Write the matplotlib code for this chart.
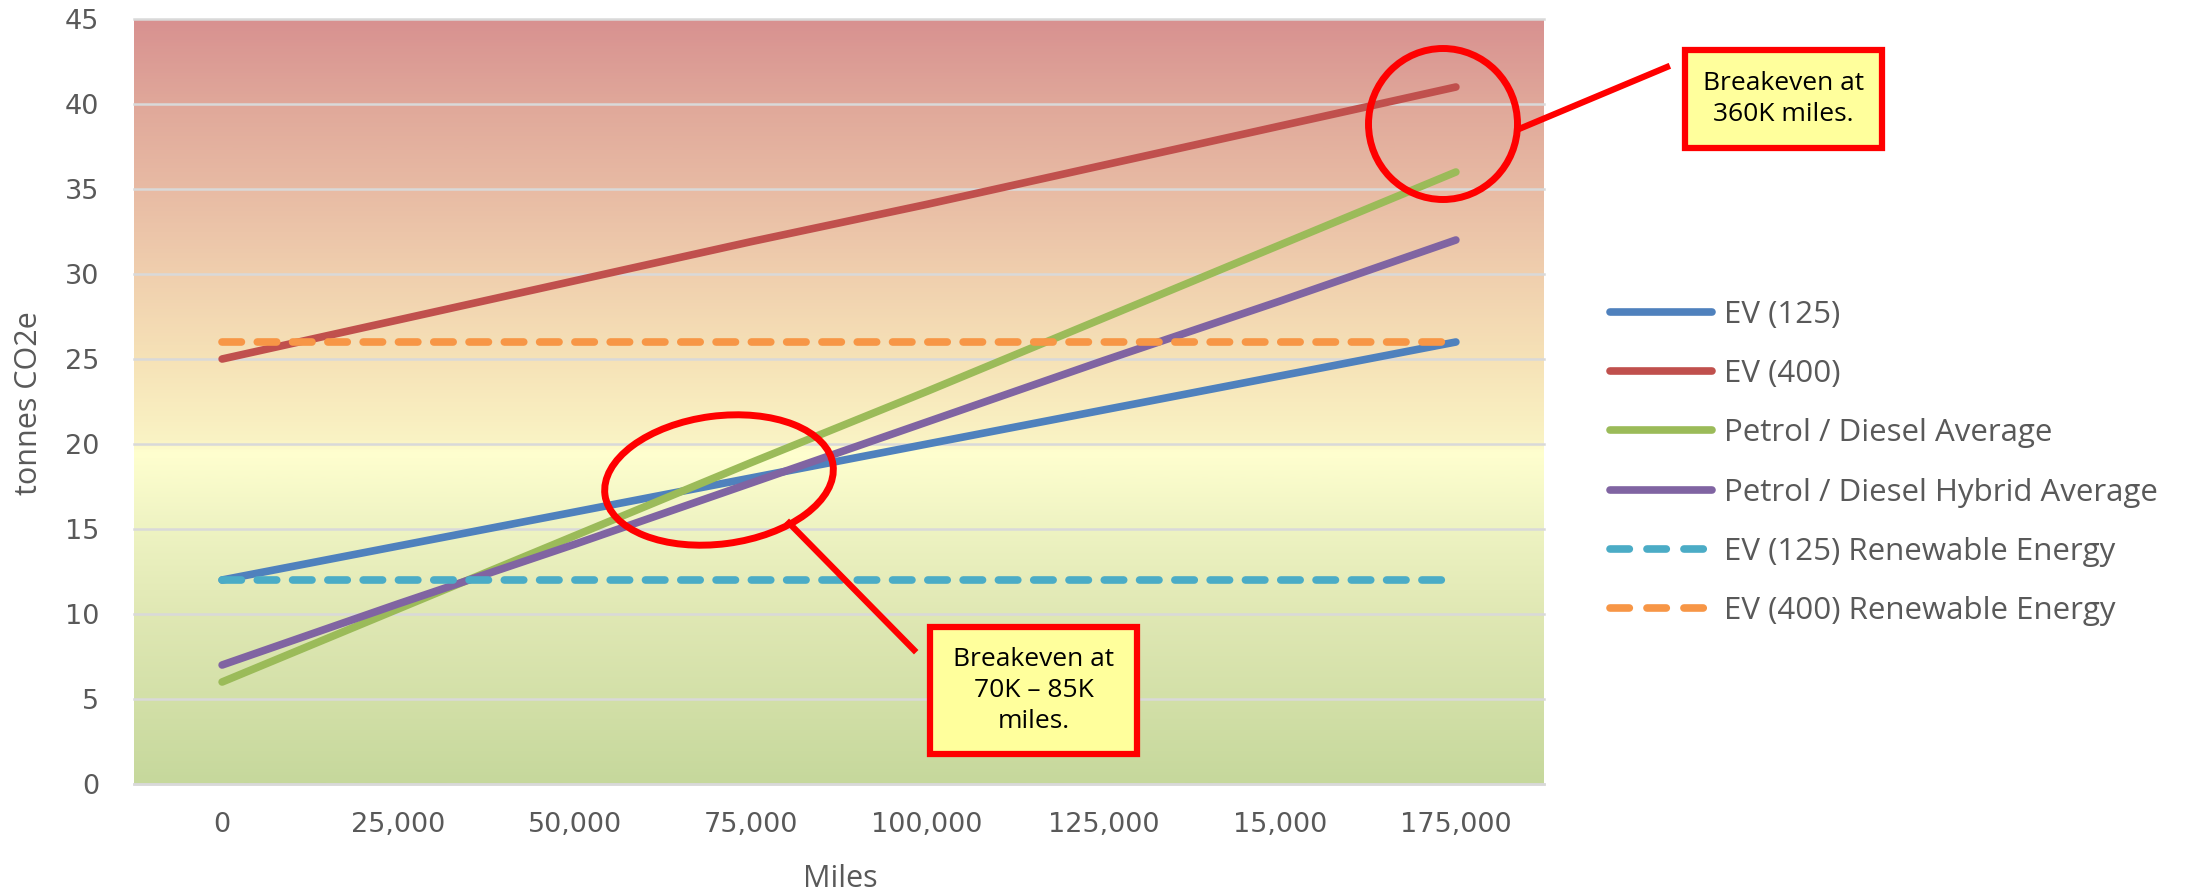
import numpy as np
import matplotlib
matplotlib.use("Agg")
import matplotlib.pyplot as plt
from matplotlib.colors import LinearSegmentedColormap
from matplotlib.patches import Ellipse, Rectangle
from matplotlib.lines import Line2D
from matplotlib.transforms import IdentityTransform

# ---------------- data ----------------
miles_labels = ["0", "25,000", "50,000", "75,000", "100,000", "125,000", "15,000", "175,000"]
ev125 = [12, 14, 16, 18, 20, 22, 24, 26]
ev400 = [25, 27.3, 29.6, 31.9, 34.1, 36.4, 38.7, 41]
petrol = [6, 10.3, 14.6, 18.9, 23.1, 27.4, 31.7, 36]
hybrid = [7, 10.6, 14.1, 17.7, 21.3, 24.9, 28.4, 32]
ev125_re = [12, 12, 12, 12, 12, 12, 12, 12]
ev400_re = [26, 26, 26, 26, 26, 26, 26, 26]
series_names = ["EV (125)", "EV (400)", "Petrol / Diesel Average",
                "Petrol / Diesel Hybrid Average", "EV (125) Renewable Energy",
                "EV (400) Renewable Energy"]
y_ticks = [0, 5, 10, 15, 20, 25, 30, 35, 40, 45]

W, H = 2193, 892
fig = plt.figure(figsize=(W / 100, H / 100), dpi=100)
ax = fig.add_axes([134 / W, 1 - 784 / H, (1544 - 134) / W, (784 - 19) / H])

x = np.arange(len(miles_labels))

# gradient background
stops = [(0.0, "#C6D89C"), (10 / 45, "#E0E8B4"), (15 / 45, "#EEF3C2"),
         (19.5 / 45, "#FFFFCF"), (20.2 / 45, "#FAF3C4"), (25 / 45, "#F6E2B7"),
         (30 / 45, "#F0CFAE"), (35 / 45, "#E8BBA4"), (40 / 45, "#E0A89A"),
         (1.0, "#D89190")]
cmap = LinearSegmentedColormap.from_list("bg", stops)
grad = np.linspace(0, 1, 512).reshape(-1, 1)
ax.imshow(grad, cmap=cmap, origin="lower", aspect="auto",
          extent=[-0.5, len(x) - 0.5, 0, 45], zorder=0)

for yv in y_ticks:
    ax.axhline(yv, color="#D9D9D9", lw=1.8, zorder=1, clip_on=False)

lw = 5.5
dash = (2.54, 2.08)
cols = ["#4F81BD", "#C0504D", "#9BBB59", "#8064A2", "#4BACC6", "#F79646"]
data = [ev125, ev400, petrol, hybrid, ev125_re, ev400_re]
handles = []
for i, (d, c, n) in enumerate(zip(data, cols, series_names)):
    if i >= 4:
        ax.plot(x, d, color=c, lw=lw, dashes=dash, dash_capstyle="round", zorder=3)
        handles.append(Line2D([], [], color=c, lw=lw, dashes=(2.53, 2.31),
                              dash_capstyle="round", label=n))
    else:
        ax.plot(x, d, color=c, lw=lw, solid_capstyle="round", zorder=3)
        handles.append(Line2D([], [], color=c, lw=lw, solid_capstyle="round", label=n))

ax.set_xlim(-0.5, len(x) - 0.5)
ax.set_ylim(0, 45)
ax.set_xticks(x)
ax.set_xticklabels(miles_labels)
ax.set_yticks(y_ticks)
ax.tick_params(axis="both", length=0, labelsize=19.5, colors="#595959")
ax.tick_params(axis="x", pad=20)
ax.tick_params(axis="y", pad=25)
for lab in ax.get_xticklabels() + ax.get_yticklabels():
    lab.set_fontfamily("DejaVu Sans")
for s in ["top", "right", "left"]:
    ax.spines[s].set_visible(False)
ax.spines["bottom"].set_color("#D9D9D9")
ax.spines["bottom"].set_linewidth(1.8)

fig.text(29 / W, 1 - 403 / H, "tonnes CO2e", rotation=90, ha="center", va="center",
         fontsize=22, family="Open Sans", color="#595959")
fig.text(840 / W, 1 - 887 / H, "Miles", ha="center", va="baseline",
         fontsize=22, family="Open Sans", color="#595959")

fs_leg = 22.5
em = fs_leg * 100 / 72
leg = fig.legend(handles=handles, loc="center left",
                 bbox_to_anchor=(1610 / W, 1 - 463 / H), frameon=False,
                 borderpad=0, borderaxespad=0, handlelength=102 / em,
                 handletextpad=12 / em, labelspacing=0.935,
                 prop={"family": "Open Sans", "size": fs_leg})
for t in leg.get_texts():
    t.set_color("#595959")

# ---------------- annotations (pixel coordinates, y from top) ----------------
idt = IdentityTransform()
red = "#FF0000"


def P(px, py):
    return (px, H - py)


def ellipse(cx, cy, w, h, ang=0):
    e = Ellipse(P(cx, cy), w, h, angle=ang, fill=False, edgecolor=red,
                lw=5, transform=idt, zorder=10)
    fig.add_artist(e)


def seg(x0, y0, x1, y1):
    fig.add_artist(Line2D([x0, x1], [H - y0, H - y1], color=red, lw=4.5,
                          transform=idt, zorder=10))


def box(x0, y0, x1, y1, text):
    r = Rectangle(P(x0 + 3, y1 - 3), x1 - x0 - 6, y1 - y0 - 6, facecolor="#FFFF9C",
                  edgecolor=red, lw=4.5, transform=idt, zorder=11)
    fig.add_artist(r)
    fig.text(((x0 + x1) / 2) / W, 1 - ((y0 + y1) / 2) / H, text, ha="center",
             va="center", fontsize=19, family="Open Sans", color="black",
             linespacing=1.3, zorder=12)


ellipse(1443, 124, 149, 151)
seg(1519, 129, 1667, 67)
box(1682, 47, 1885, 151, "Breakeven at\n360K miles.")

ellipse(719, 480, 230, 128, 7.5)
seg(789, 523, 914, 650)
box(927, 624, 1140, 757, "Breakeven at\n70K \u2013 85K\nmiles.")

fig.savefig("out.png", dpi=100)
